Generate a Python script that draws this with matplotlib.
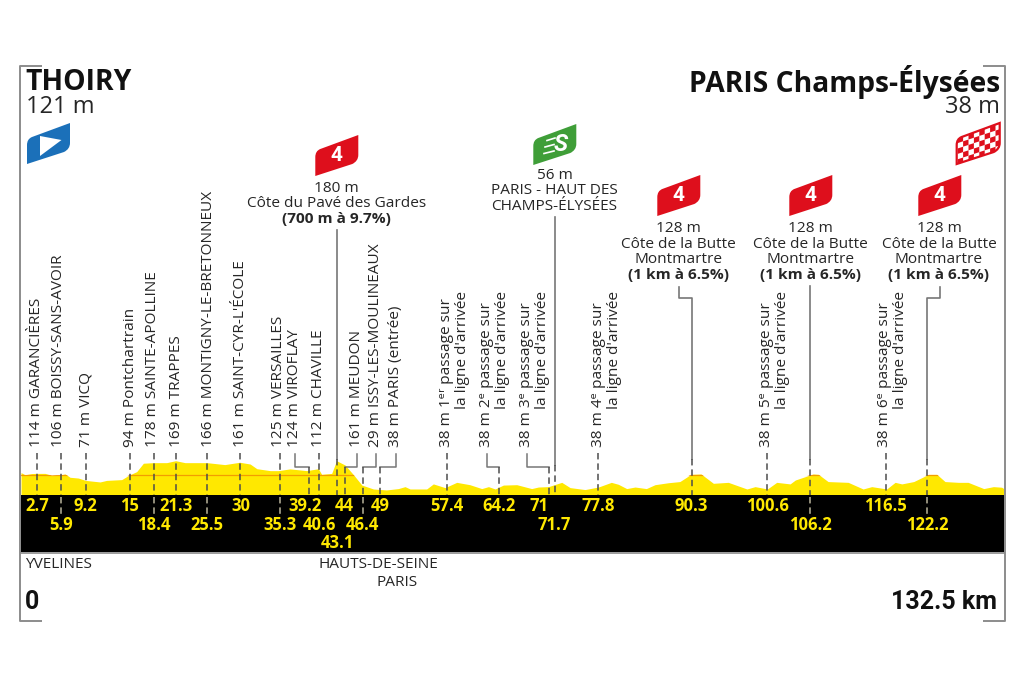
import matplotlib
matplotlib.use("Agg")
import matplotlib.pyplot as plt
from matplotlib.path import Path
from matplotlib.patches import PathPatch, Polygon, Rectangle
from matplotlib.transforms import blended_transform_factory

# Stage profile: distance (km) and altitude (m)
profile_km = [0.54, 1.07, 1.97, 2.7, 3.76, 4.66, 5.9, 6.45, 7.12, 8.24, 9.2, 11.15, 12.04, 14.06, 15, 16.07,
              16.97, 18.3, 20.1, 21.3, 22.56, 25.5, 27.9, 29.9, 31.3, 32.2, 34, 35.1, 36.65, 38.9, 40.46, 40.9,
              42.25, 42.9, 44.04, 45.2, 46.3, 47.85, 49.6, 51.2, 52.1, 52.77, 55, 55.9, 57.47, 59.04, 60.8,
              62.4, 63.3, 64.2, 65.3, 67.1, 69.1, 70, 71.35, 73.14, 74.26, 76.27, 78.06, 79.8, 80.74, 81.86,
              82.98, 84.5, 85.66, 87.45, 89.0, 90.5, 91.84, 93.5, 95.5, 98, 99.1, 100.75, 102, 103.8, 104.5,
              106.9, 107.6, 108.9, 111.6, 113.6, 114.76, 116.77, 117.9, 118.8, 120.4, 122.4, 123.5, 124.6,
              126.4, 127.7, 129.8, 131.1, 132.2, 132.5]
profile_m = [120, 109, 115, 116, 116, 106, 109, 113, 96, 92, 80, 72, 80, 84, 106, 125,
             168, 171, 171, 181, 171, 171, 161, 173, 164, 140, 130, 130, 139, 130, 140, 111,
             116, 181, 159, 108, 56, 36, 31, 38, 48, 36, 36, 62, 43, 70, 58,
             38, 48, 36, 56, 58, 38, 46, 48, 70, 43, 33, 46, 70, 60, 38,
             46, 38, 58, 68, 74, 111, 113, 65, 70, 36, 48, 36, 70, 62, 82,
             113, 111, 74, 70, 36, 48, 36, 70, 62, 74, 111, 111, 74,
             70, 70, 38, 48, 45, 38]
reference_altitude = 110

# Kilometre markers per row of the distance band
km_row1 = [2.7, 9.2, 15, 21.3, 30, 39.2, 44, 49, 57.4, 64.2, 71, 77.8, 90.3, 100.6, 116.5]
km_row2 = [5.9, 18.4, 25.5, 35.3, 40.6, 46.4, 71.7, 106.2, 122.2]
km_row3 = [43.1]

# Towns along the route
town_names = ["114 m GARANCIÈRES", "106 m BOISSY-SANS-AVOIR", "71 m VICQ", "94 m Pontchartrain",
              "178 m SAINTE-APOLLINE", "169 m TRAPPES", "166 m MONTIGNY-LE-BRETONNEUX",
              "161 m SAINT-CYR-L'ÉCOLE", "125 m VERSAILLES", "124 m VIROFLAY", "112 m CHAVILLE",
              "161 m MEUDON", "29 m ISSY-LES-MOULINEAUX", "38 m PARIS (entrée)"]
town_km = [2.7, 5.9, 9.2, 15, 18.4, 21.3, 25.5, 30, 35.3, 39.2, 40.6, 44, 46.4, 49]

# Passages over the finish line
lap_first = ["38 m 1ᵉʳ passage sur", "38 m 2ᵉ passage sur", "38 m 3ᵉ passage sur",
             "38 m 4ᵉ passage sur", "38 m 5ᵉ passage sur", "38 m 6ᵉ passage sur"]
lap_second = "la ligne d'arrivée"
lap_km = [57.4, 64.2, 71, 77.8, 100.6, 116.5]

# Classified climbs and sprint
climb_km = [43.1, 90.3, 106.2, 122.2]
climb_lines = [["180 m", "Côte du Pavé des Gardes", "(700 m à 9.7%)"],
               ["128 m", "Côte de la Butte", "Montmartre", "(1 km à 6.5%)"],
               ["128 m", "Côte de la Butte", "Montmartre", "(1 km à 6.5%)"],
               ["128 m", "Côte de la Butte", "Montmartre", "(1 km à 6.5%)"]]
sprint_km = 71.7
sprint_lines = ["56 m", "PARIS - HAUT DES", "CHAMPS-ÉLYSÉES"]
total_km = 132.5

W, H = 1024, 680
SANS = ["Open Sans", "DejaVu Sans"]
BLOCK = ["Roboto", "DejaVu Sans"]
TEXT = 11.1
INK = "#262626"
RULE = "#777777"
YELLOW = "#FFE800"
RED = "#DE0F1C"

fig = plt.figure(figsize=(W / 100, H / 100), dpi=100, facecolor="white")

# Profile axes: km on x, metres on y, spanning the whole canvas
ax = fig.add_axes([0, 0, 1, 1], zorder=1)
KM_PX, M_PX, X0, Y0 = 7.448, 0.195, 17, 496
ax.set_xlim(-X0 / KM_PX, (W - X0) / KM_PX)
ax.set_ylim((Y0 - H) / M_PX, Y0 / M_PX)
ax.axis("off")

# Layout axes in canvas pixels for frame, flags and captions
pg = fig.add_axes([0, 0, 1, 1], zorder=2)
pg.set_xlim(0, W)
pg.set_ylim(H, 0)
pg.axis("off")
pg.patch.set_alpha(0)

# Small horizontal corrections where markers sit off the linear distance scale
marker_shift = {15: 1, 39.2: 0, 43.1: -1, 49: -2, 57.4: 2.5, 64.2: 3.5, 71: 3, 71.7: 3.5, 77.8: 1.5,
                90.3: 2, 100.6: 1, 106.2: 2.5, 116.5: 1}
label_shift = {39.2: -4, 71: -9.5}

def xpx(km):
    return ax.transData.transform((km, 0))[0] * W / fig.bbox.width + marker_shift.get(km, 0)

def dashes(km, y0, y1, color="#4d4d4d"):
    x = xpx(km)
    pg.plot([x, x], [y0, y1], color=color, lw=1.1, dashes=(4.2, 2.6), zorder=5)

def jog(x_label, km, y_elbow, y_top):
    pg.plot([x_label, x_label, xpx(km)], [y_top, y_elbow, y_elbow], color=RULE, lw=1.1, zorder=3)

# Altitude silhouette with its reference line clipped inside
fill = ax.fill_between(profile_km, profile_m, -20, color=YELLOW, lw=0, zorder=1)
ref = ax.axhline(reference_altitude, color="#F08A00", lw=0.9, alpha=0.8, zorder=2)
ref.set_clip_path(Path.make_compound_path(*fill.get_paths()), ax.transData)

# Distance band and outer frame
pg.add_patch(Rectangle((21, 495), 983, 57, fc="black", ec="none", zorder=1))
pg.plot([21, 1004], [552.5, 552.5], color="#8a8a8a", lw=1.2, zorder=1)
frame = dict(color="#8c8c8c", lw=1.4, solid_capstyle="butt", zorder=1)
pg.plot([42, 20, 20, 42], [65.5, 65.5, 621, 621], **frame)
pg.plot([983, 1005, 1005, 983], [65.5, 65.5, 621, 621], **frame)

# Town captions and their leaders
town_x = [37, 59, 86, 130, 152, 176, 208, 240, 278, 295, 319, 357, 375.5, 396]
for name, km, x in zip(town_names, town_km, town_x):
    pg.text(x, 447, name, rotation=90, ha="center", va="bottom", fontsize=TEXT, color=INK, family=SANS)
    if abs(x - xpx(km)) > 4:
        jog(x, km, 467, 454)
        dashes(km, 467, 495)
    else:
        dashes(km, 453, 495)

# Finish-line passages
lap_x = [446.5, 487, 527, 598, 767, 885]
for first, km, x in zip(lap_first, lap_km, lap_x):
    pg.text(x, 447, first, rotation=90, ha="center", va="bottom", fontsize=TEXT, color=INK, family=SANS)
    pg.text(x + 16, 291, lap_second, rotation=90, ha="center", va="top", fontsize=TEXT, color=INK, family=SANS)
    if abs(x - xpx(km)) > 4:
        jog(x, km, 467, 454)
        dashes(km, 467, 495)
    else:
        dashes(km, 453, 495)

# Flag outline shared by all markers, anchored at its lower-left corner
def flag_path(x, y):
    v = [(0, 0), (0, -19), (0, -25), (5, -27), (43, -41), (43, -21), (43, -15), (37, -12), (0, 0), (0, 0)]
    c = [Path.MOVETO, Path.LINETO, Path.CURVE3, Path.CURVE3, Path.LINETO, Path.LINETO, Path.CURVE3, Path.CURVE3,
         Path.LINETO, Path.CLOSEPOLY]
    return Path([(x + a, y + b) for a, b in v], c)

def climb_flag(x, y):
    pg.add_patch(PathPatch(flag_path(x, y), fc=RED, ec="none", zorder=4))
    pg.text(x + 21.5, y - 20.5, "4", color="white", fontsize=15, fontweight="bold", family=BLOCK,
            ha="center", va="center", zorder=5)

def stack(x, y, lines, step=15.5):
    for i, line in enumerate(lines):
        heavy = line.startswith("(")
        pg.text(x, y + i * step, line, ha="center", va="center", fontsize=TEXT, color=INK, family=SANS,
                fontweight="bold" if heavy else "normal")

# Climb flags, captions and leaders
flag_at = [(315.3, 176), (657.3, 216), (789.3, 216), (918.3, 216)]
text_at = [(336.5, 188), (678, 228.5), (810.5, 228.5), (939, 228.5)]
label_x = [None, 679, None, 940]
line_top = [230, 287, 286, 287]
for km, lines, (fx, fy), (tx, ty), lx, top in zip(climb_km, climb_lines, flag_at, text_at, label_x, line_top):
    climb_flag(fx, fy)
    stack(tx, ty, lines)
    x = xpx(km)
    if lx is None:
        pg.plot([x, x], [top, 459], color=RULE, lw=1.2, zorder=3)
    else:
        pg.plot([lx, lx, x, x], [top, 297.5, 297.5, 459], color=RULE, lw=1.2, zorder=3)
    dashes(km, 459, 495)

# Intermediate sprint
pg.add_patch(PathPatch(flag_path(533.3, 165), fc="#3F9E38", ec="none", zorder=4))
pg.text(561, 144.5, "S", color="white", fontsize=17, fontweight="bold", style="italic", family=BLOCK,
        ha="center", va="center", zorder=5)
for off, (a, b) in zip((0, 6.5, 13), ((547, 555), (545, 554), (544, 554))):
    pg.plot([a, b], [140.5 + off, 138 + off], color="white", lw=1.2, zorder=5)
stack(554.5, 175.5, sprint_lines, step=15.5)
sx = xpx(sprint_km)
pg.plot([sx, sx], [217, 465], color=RULE, lw=1.2, zorder=3)
dashes(sprint_km, 465, 495)

# Start flag
pg.add_patch(PathPatch(flag_path(27, 164), fc="#1B70B9", ec="none", zorder=4))
pg.add_patch(Polygon([(40, 136), (61.5, 140), (40, 156)], fc="white", ec="none", zorder=5))

# Chequered finish flag
fin = flag_path(956.7, 164)
pg.add_patch(PathPatch(fin, fc="white", ec=RED, lw=1.6, zorder=4))
clip = PathPatch(fin, transform=pg.transData, fc="none", ec="none")
pg.add_patch(clip)
fx, fy, cell = 956.7, 164, 5.4
for i in range(9):
    for j in range(8):
        if (i + j) % 2 == 0:
            u0, u1 = fx + 1 + i * cell, fx + 1 + (i + 1) * cell
            top = fy - 26 + j * cell
            corners = [(u0, top - 0.33 * (u0 - fx)), (u1, top - 0.33 * (u1 - fx)),
                       (u1, top + cell - 0.33 * (u1 - fx)), (u0, top + cell - 0.33 * (u0 - fx))]
            sq = Polygon(corners, fc=RED, ec="none", zorder=5)
            pg.add_patch(sq)
            sq.set_clip_path(clip)

# Kilometre figures in the black band
for row, y in zip((km_row1, km_row2, km_row3), (506, 525, 543.5)):
    for km in row:
        pg.text(xpx(km) + label_shift.get(km, 0), y, f"{km:g}", color=YELLOW, fontsize=12, fontweight="bold",
                family=SANS, ha="center", va="center", zorder=6)
for km in [5.9, 18.4, 25.5, 35.3, 46.4, 106.2, 122.2]:
    dashes(km, 497, 516, color="#b8b39a")

# Stage ends
pg.text(25, 82, "THOIRY", fontsize=20.3, fontweight="bold", color="#111111", family=SANS, ha="left", va="center")
pg.text(26, 107, "121 m", fontsize=17, color=INK, family=SANS, ha="left", va="center")
pg.text(1000, 82, "PARIS Champs-Élysées", fontsize=20.3, fontweight="bold", color="#111111", family=SANS,
        ha="right", va="center")
pg.text(1000, 107, "38 m", fontsize=17, color=INK, family=SANS, ha="right", va="center")

# Departments and overall distance
pg.text(25, 564, "YVELINES", fontsize=TEXT, color=INK, family=SANS, ha="left", va="center")
pg.text(378, 564, "HAUTS-DE-SEINE", fontsize=TEXT, color=INK, family=SANS, ha="center", va="center")
pg.text(397, 583, "PARIS", fontsize=TEXT, color=INK, family=SANS, ha="center", va="center")
pg.text(25, 602, "0", fontsize=18, fontweight="bold", color="#111111", family=BLOCK, ha="left", va="center")
pg.text(997, 602, f"{total_km:g} km", fontsize=18, fontweight="bold", color="#111111", family=BLOCK,
        ha="right", va="center")

fig.savefig("out.png", dpi=100, facecolor="white")
